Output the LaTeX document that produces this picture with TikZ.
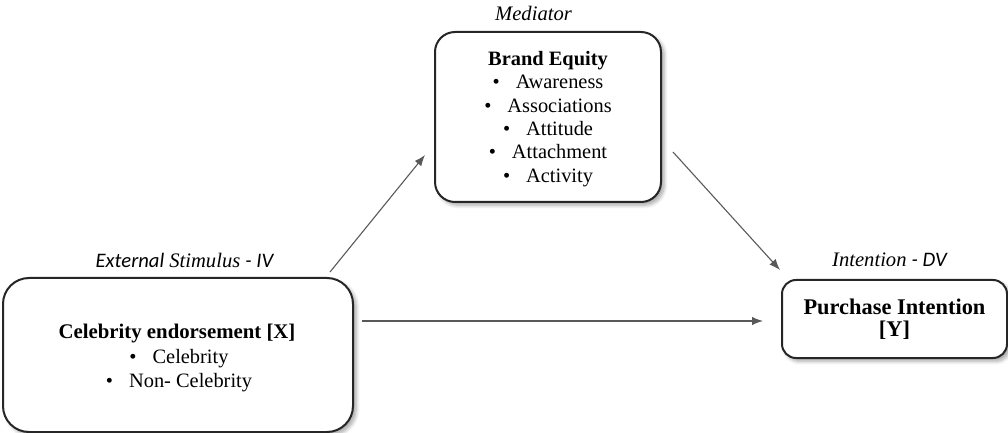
\documentclass[tikz,border=0pt]{standalone}
\usepackage{fontspec}
\setmainfont{Liberation Serif}
\newfontfamily\calibrifont{Carlito}
\usetikzlibrary{arrows.meta,shadows.blur}
\tikzset{
  box/.style={draw=black!85, line width=1pt, fill=white, inner sep=0pt,
    blur shadow={shadow xshift=1.6pt, shadow yshift=-1.6pt, shadow blur steps=6, shadow opacity=35}},
  conn/.style={draw=black!65, line width=0.55pt, -{Latex[length=5.5pt,width=4.2pt]}},
  lab/.style={inner sep=0pt, font=\fontsize{10.3}{12}\selectfont\itshape},
  txt/.style={inner sep=0pt, align=center},
  line/.style={inner sep=0pt, anchor=base, font=\fontsize{10.2}{12}\selectfont}
}
\begin{document}
\begin{tikzpicture}[x=0.5pt,y=-0.5pt]
\useasboundingbox (0,0) rectangle (1008,433);
% boxes
\node[box, rounded corners=10pt, minimum width=113pt, minimum height=85pt] (be) at (548,117) {};
\node[txt, font=\fontsize{10.2}{11.65}\selectfont] (betext) at (548,119)
  {\textbf{Brand Equity}\\
   \textbullet\hspace{8pt}Awareness\\
   \textbullet\hspace{8pt}Associations\\
   \textbullet\hspace{8pt}Attitude\\
   \textbullet\hspace{8pt}Attachment\\
   \textbullet\hspace{8pt}Activity};
\node[box, rounded corners=13pt, minimum width=175pt, minimum height=77pt] (cel) at (178,355) {};
\node[line, font=\fontsize{10.4}{12}\selectfont\bfseries] (celtitle) at (177,338)
  {Celebrity endorsement [X]};
\node[line] (celi1) at (179,363) {\textbullet\hspace{8pt}Celebrity};
\node[line] (celi2) at (179,387) {\textbullet\hspace{8pt}Non- Celebrity};
\node[box, rounded corners=7pt, minimum width=112.5pt, minimum height=39pt,
  align=center, font=\fontsize{11.2}{11}\selectfont\bfseries] (pi) at (894.5,319)
  {Purchase Intention\\{[Y]}};
% labels
\node[lab] (med) at (533.5,13) {Mediator};
\node[lab] (iv) at (184.5,260) {{\calibrifont External} Stimulus {\calibrifont - IV}};
\node[lab] (dv) at (889.5,260) {Intention {\calibrifont - DV}};
% connectors
\coordinate (a1s) at (330,272);
\coordinate (a1e) at (425,155);
\coordinate (a2s) at (673,152);
\coordinate (a2e) at (780,270);
\coordinate (a3s) at (362,321);
\coordinate (a3e) at (763,321);
\draw[conn] (a1s) -- (a1e);
\draw[conn] (a2s) -- (a2e);
\draw[conn] (a3s) -- (a3e);
\end{tikzpicture}
\end{document}
